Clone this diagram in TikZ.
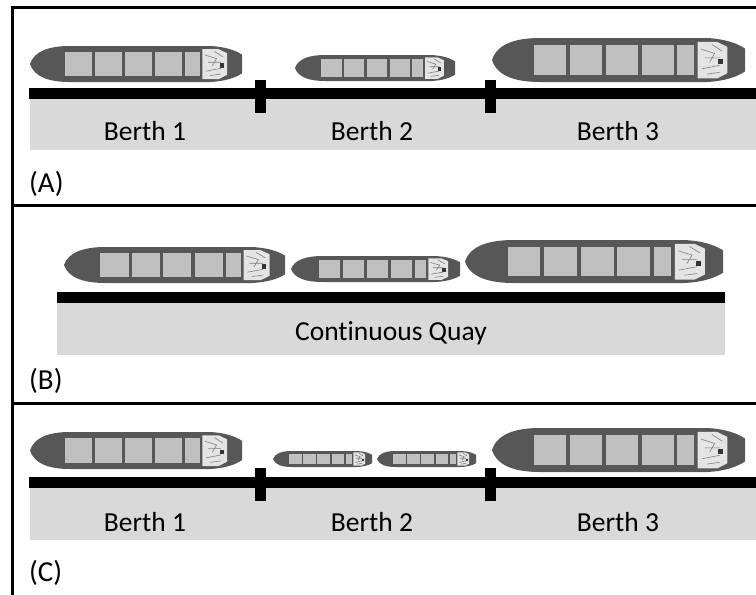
\documentclass[tikz,border=0pt]{standalone}
\usepackage{fontspec}
\setmainfont[Ligatures=NoCommon]{Carlito}
\begin{document}
\begin{tikzpicture}[x=1pt,y=-1pt,
  frameline/.style={line width=3pt,black},
  quayline/.style={fill=black},
  apron/.style={fill=quaygray},
  bollard/.style={fill=black},
  hull/.style={fill=hullgray},
  box/.style={fill=boxgray},
  berthtxt/.style={font=\fontsize{27.5}{30}\selectfont,anchor=center,inner sep=0pt},
  paneltxt/.style={font=\fontsize{29}{32}\selectfont,anchor=west,inner sep=0pt}]
\definecolor{quaygray}{HTML}{D9D9D9}
\definecolor{hullgray}{HTML}{575757}
\definecolor{boxgray}{HTML}{C0C0C0}
\definecolor{bridgegray}{HTML}{E4E4E4}

% container ship: #1,#2 top-left corner, #3 length, #4 beam
\newcommand\drawship[4]{%
  \begin{scope}[shift={(#1,#2)},xscale=#3,yscale=#4]
    \path[hull] (0,0.5) .. controls (0.02,0.14) and (0.09,0) .. (0.19,0)
      -- (0.85,0) .. controls (0.92,0.02) and (0.97,0.12) .. (1,0.24)
      -- (1,0.76) .. controls (0.97,0.88) and (0.92,0.98) .. (0.85,1)
      -- (0.19,1) .. controls (0.09,1) and (0.02,0.86) .. (0,0.5) -- cycle;
    \foreach \u in {0.165,0.307,0.449,0.591}
      \path[box] (\u,0.17) rectangle ++(0.127,0.66);
    \path[box] (0.733,0.17) rectangle (0.80,0.83);
    % superstructure aft
    \path[fill=bridgegray] (0.813,0.09) -- (0.89,0.09) -- (0.93,0.2)
      -- (0.93,0.8) -- (0.89,0.92) -- (0.813,0.92) -- cycle;
    \draw[gray,line width=0.6pt] (0.825,0.25) -- (0.88,0.35) -- (0.86,0.55)
      (0.83,0.7) -- (0.9,0.62) (0.87,0.15) -- (0.91,0.3)
      (0.84,0.45) -- (0.9,0.45) (0.85,0.82) -- (0.9,0.78);
    \path[fill=black!80] (0.895,0.48) rectangle (0.915,0.6);
  \end{scope}}

\useasboundingbox (0,0) rectangle (756,595);

% frame and panel dividers
\draw[frameline] (12,595) -- (12,7) -- (756,7);
\draw[frameline] (12,205) -- (756,205);
\draw[frameline] (12,403) -- (756,403);

% ---------------- (A) fixed berths ----------------
\path[apron] (30,99) rectangle (756,150);
\path[quayline] (29,88) rectangle (756,99);
\path[bollard] (255,80) rectangle (266,113);
\path[bollard] (485,80) rectangle (496,113);
\drawship{30}{46}{212}{36}
\drawship{295}{55}{160}{26}
\drawship{492}{38}{253}{44}
\node[berthtxt] (a1) at (145,131) {Berth 1};
\node[berthtxt] (a2) at (372,131) {Berth 2};
\node[berthtxt] (a3) at (618,131) {Berth 3};
\node[paneltxt] (la) at (29,184) {(A)};

% ---------------- (B) continuous quay ----------------
\path[apron] (57,302) rectangle (725,355);
\path[quayline] (57,292) rectangle (725,303);
\drawship{64}{247}{221}{36}
\drawship{291}{256}{169}{26}
\drawship{465}{240}{258}{43}
\node[berthtxt] (cq) at (391,333) {Continuous Quay};
\node[paneltxt] (lb) at (29,381) {(B)};

% ---------------- (C) shared berth ----------------
\path[apron] (30,487) rectangle (756,540);
\path[quayline] (29,477) rectangle (756,488);
\path[bollard] (255,468) rectangle (266,501);
\path[bollard] (485,468) rectangle (496,501);
\drawship{30}{432}{212}{37}
\drawship{273}{451}{99}{16}
\drawship{377}{451}{99}{16}
\drawship{492}{428}{253}{44}
\node[berthtxt] (c1) at (145,522) {Berth 1};
\node[berthtxt] (c2) at (372,522) {Berth 2};
\node[berthtxt] (c3) at (618,522) {Berth 3};
\node[paneltxt] (lc) at (29,573) {(C)};
\end{tikzpicture}
\end{document}
